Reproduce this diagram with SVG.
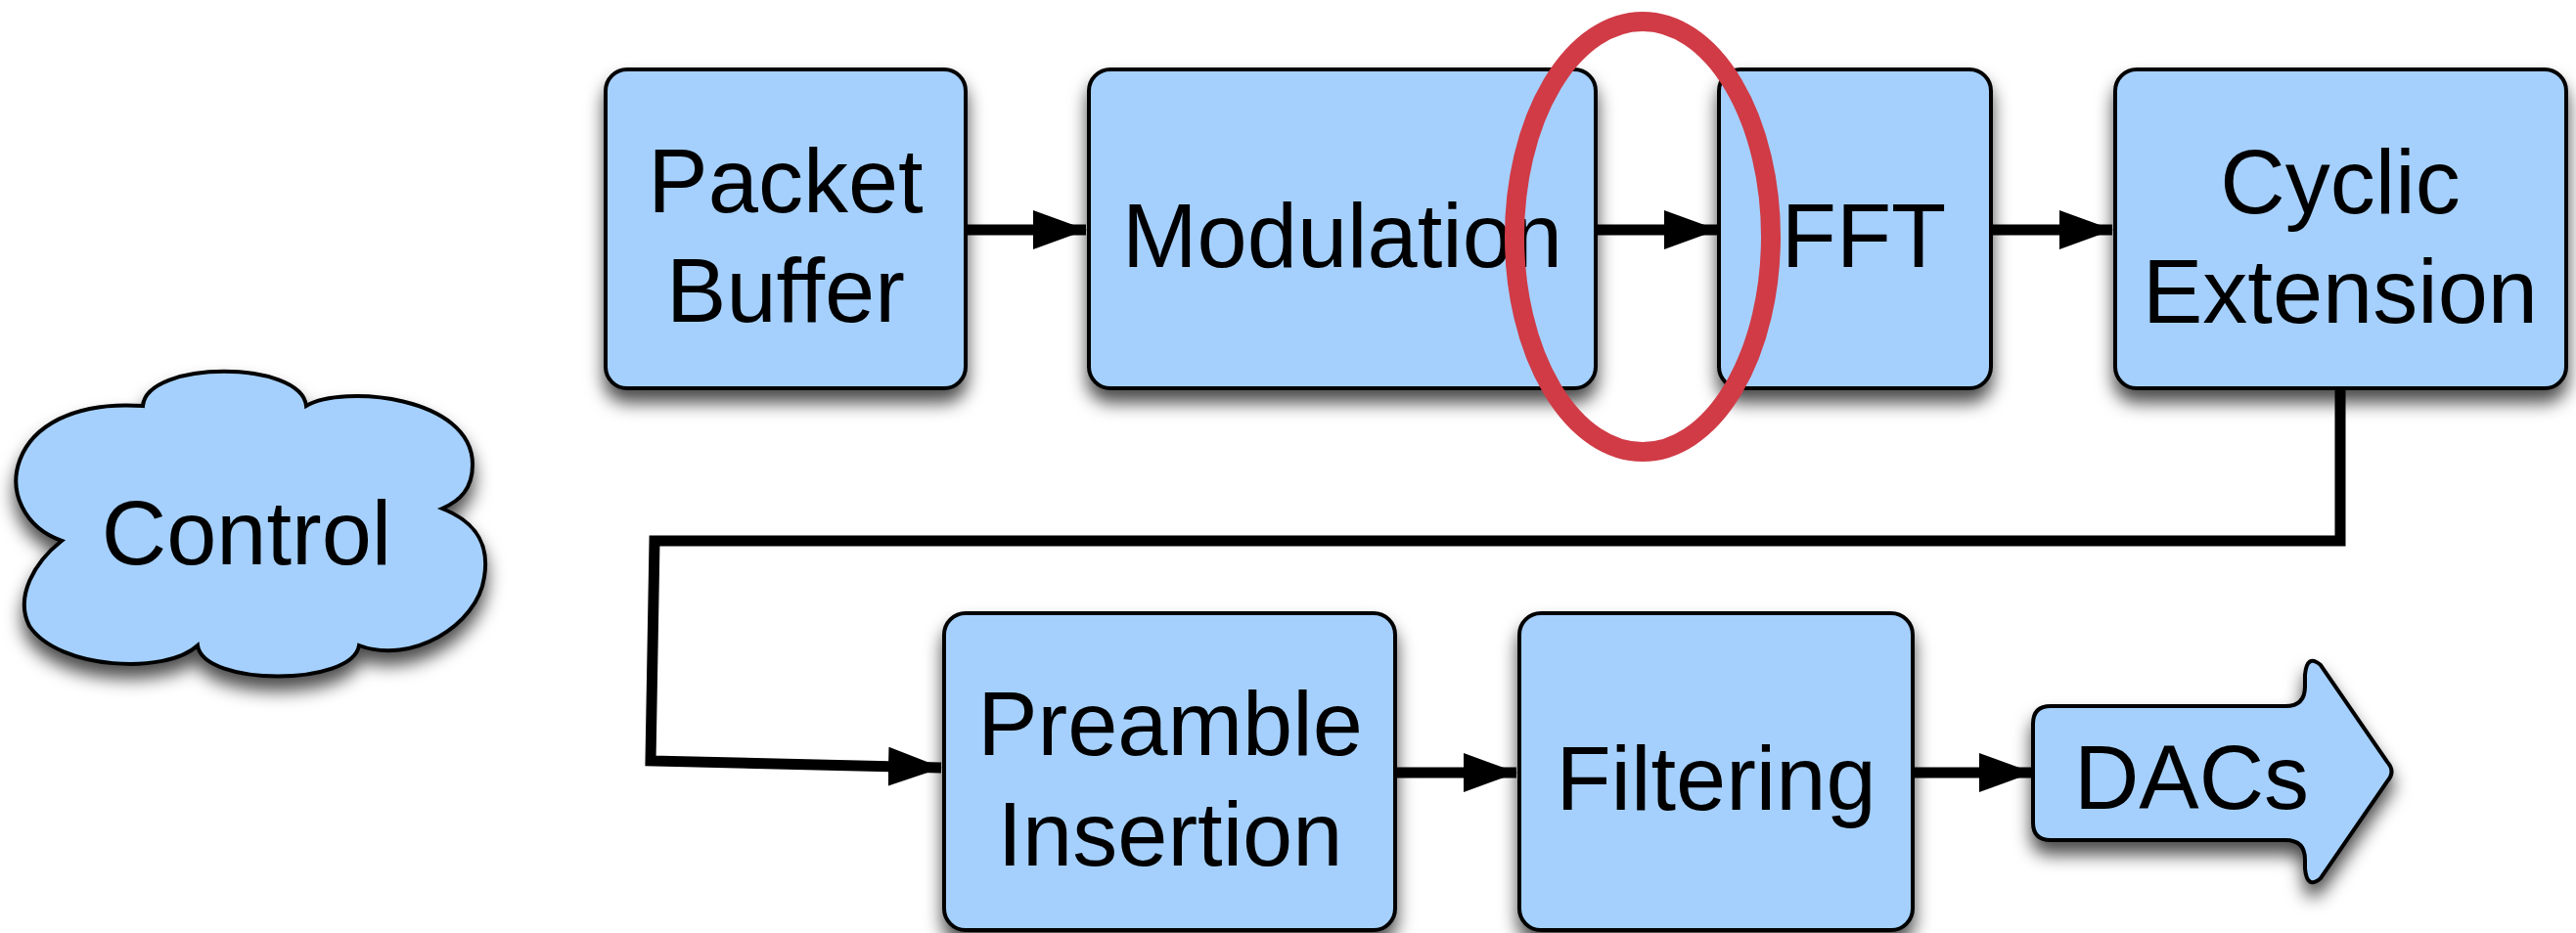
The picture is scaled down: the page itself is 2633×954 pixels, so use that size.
<svg xmlns="http://www.w3.org/2000/svg" width="2633" height="954" viewBox="0 0 2633 954">
  <style>
    .node { fill: #a5d0fd; stroke: #000; stroke-width: 4; filter: url(#shadow); }
    .lbl { font-family: "Liberation Sans", Arial, Helvetica, sans-serif; font-size: 92px; fill: #000; text-anchor: middle; }
    .conn { fill: none; stroke: #000; stroke-width: 11; stroke-linejoin: miter; marker-end: url(#arrow); }
  </style>
  <defs>
    <filter id="shadow" x="-20%" y="-20%" width="140%" height="150%">
      <feDropShadow dx="0" dy="13" stdDeviation="9" flood-color="#000" flood-opacity="0.7"/>
    </filter>
    <marker id="arrow" markerUnits="userSpaceOnUse" viewBox="0 0 55 40" refX="54" refY="20" markerWidth="55" markerHeight="40" orient="auto">
      <path d="M0,0 L55,20 L0,40 Z" fill="#000"/>
    </marker>
  </defs>
  <rect width="2633" height="954" fill="#fff"/>

  <g id="connectors">
    <line class="conn" x1="989" y1="235" x2="1110" y2="235"/>
    <line class="conn" x1="1632" y1="235" x2="1755" y2="235"/>
    <line class="conn" x1="2036" y1="235" x2="2159" y2="235"/>
    <polyline class="conn" points="2392,398 2392,553 669,553 665,778 962,785"/>
    <line class="conn" x1="1427" y1="790" x2="1550" y2="790"/>
    <line class="conn" x1="1956" y1="790" x2="2077" y2="790"/>
  </g>

  <g id="control">
    <path class="node" d="M146 415 C150 368 308 368 313 415 C350 393 483 405 483 475 C483 500 470 512 452 520 C490 535 500 560 495 590 C488 640 420 680 367 660 C360 702 208 702 202 660 C170 690 60 685 30 640 C15 610 35 575 63 553 C-15 525 0 405 146 415 Z"/>
    <text class="lbl" x="252" y="577">Control</text>
  </g>

  <g id="packet-buffer">
    <rect class="node" x="619" y="71" width="368" height="326" rx="22"/>
    <text class="lbl" x="803" y="217">Packet</text>
    <text class="lbl" x="803" y="329">Buffer</text>
  </g>

  <g id="modulation">
    <rect class="node" x="1113" y="71" width="518" height="326" rx="22"/>
    <text class="lbl" x="1372" y="273">Modulation</text>
  </g>

  <g id="fft">
    <rect class="node" x="1757" y="71" width="278" height="326" rx="22"/>
    <text class="lbl" x="1905" y="273">FFT</text>
  </g>

  <g id="cyclic-extension">
    <rect class="node" x="2162" y="71" width="461" height="326" rx="22"/>
    <text class="lbl" x="2392" y="218">Cyclic</text>
    <text class="lbl" x="2392" y="330">Extension</text>
  </g>

  <g id="preamble-insertion">
    <rect class="node" x="965" y="627" width="461" height="324" rx="22"/>
    <text class="lbl" x="1196" y="772">Preamble</text>
    <text class="lbl" x="1196" y="885">Insertion</text>
  </g>

  <g id="filtering">
    <rect class="node" x="1553" y="627" width="402" height="324" rx="22"/>
    <text class="lbl" x="1754" y="828">Filtering</text>
  </g>

  <g id="dacs">
    <path class="node" d="M2096 722 L2336 722 Q2356 722 2356 702 L2356 690 Q2358 668 2372 680 L2440 779 Q2449 789 2440 799 L2372 898 Q2358 910 2356 888 L2356 879 Q2356 859 2336 859 L2096 859 Q2078 859 2078 841 L2078 740 Q2078 722 2096 722 Z"/>
    <text class="lbl" x="2240" y="827">DACs</text>
  </g>

  <g id="highlight">
    <ellipse cx="1679" cy="242" rx="131" ry="220" fill="none" stroke="#d03b46" stroke-width="20"/>
  </g>
</svg>
